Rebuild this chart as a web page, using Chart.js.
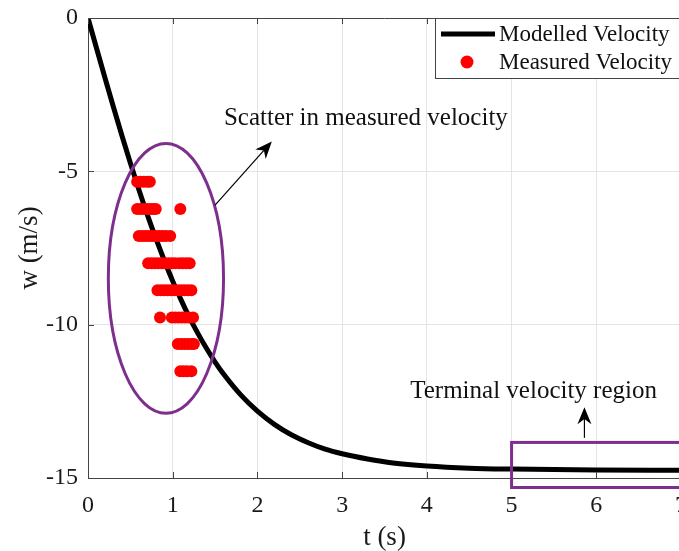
<!DOCTYPE html>
<html>
<head>
<meta charset="utf-8">
<script src="https://cdn.jsdelivr.net/npm/chart.js@4.4.0/dist/chart.umd.min.js"></script>
<style>
html, body { margin: 0; padding: 0; background: #fff; overflow: hidden; }
#wrap { width: 700px; height: 551px; }
</style>
</head>
<body>
<div id="wrap"><canvas id="c"></canvas></div>
<script>
// modelled velocity
var modelT = [0, 0.1, 0.2, 0.3, 0.4, 0.5, 0.6, 0.7, 0.8, 0.9, 1.0, 1.1, 1.2, 1.3, 1.4, 1.5, 1.6, 1.8, 2.0, 2.2, 2.4, 2.6, 2.8, 3.0, 3.3, 3.6, 4.0, 4.5, 5.0, 6.0, 7.0];
var modelW = [0, -0.98, -1.95, -2.90, -3.83, -4.73, -5.59, -6.41, -7.18, -7.90, -8.58, -9.20, -9.78, -10.30, -10.78, -11.22, -11.61, -12.28, -12.82, -13.25, -13.59, -13.85, -14.06, -14.21, -14.38, -14.51, -14.61, -14.68, -14.71, -14.74, -14.75];

// measured velocity: one row of times per velocity level
var measuredW = [-5.34, -6.23, -7.11, -8.00, -8.88, -9.77, -10.63, -11.52];
var measuredT = [
    [0.58, 0.62, 0.66, 0.70, 0.73],
    [0.58, 0.62, 0.66, 0.70, 0.74, 0.77, 0.80, 1.09],
    [0.60, 0.64, 0.68, 0.72, 0.76, 0.80, 0.84, 0.88, 0.92, 0.97],
    [0.71, 0.75, 0.79, 0.83, 0.87, 0.91, 0.95, 0.99, 1.03, 1.08, 1.12, 1.16, 1.20],
    [0.82, 0.86, 0.90, 0.94, 0.98, 1.02, 1.06, 1.10, 1.14, 1.18, 1.22],
    [0.85, 0.99, 1.03, 1.07, 1.11, 1.15, 1.19, 1.24],
    [1.06, 1.10, 1.14, 1.18, 1.22, 1.25],
    [1.09, 1.13, 1.17, 1.22]
];

var xTicks = [0, 1, 2, 3, 4, 5, 6, 7];
var yTicks = [0, -5, -10, -15];

var modelPts = modelT.map(function (t, i) { return {x: t, y: modelW[i]}; });
var measPts = [];
measuredT.forEach(function (row, i) {
    row.forEach(function (t) { measPts.push({x: t, y: measuredW[i]}); });
});

var serif = 'Liberation Serif, Times New Roman, serif';
var purple = '#7E2F8E';

function arrow(ctx, x1, y1, x2, y2) {
    var a = Math.atan2(y2 - y1, x2 - x1);
    var L = 17, W = 7;
    ctx.beginPath();
    ctx.moveTo(x1, y1);
    ctx.lineTo(x2 - Math.cos(a) * L * 0.7, y2 - Math.sin(a) * L * 0.7);
    ctx.stroke();
    ctx.beginPath();
    ctx.moveTo(x2, y2);
    ctx.lineTo(x2 - Math.cos(a) * L - Math.sin(a) * W, y2 - Math.sin(a) * L + Math.cos(a) * W);
    ctx.lineTo(x2 - Math.cos(a) * L * 0.7, y2 - Math.sin(a) * L * 0.7);
    ctx.lineTo(x2 - Math.cos(a) * L + Math.sin(a) * W, y2 - Math.sin(a) * L - Math.cos(a) * W);
    ctx.closePath();
    ctx.fill();
}

var extras = {
    id: 'extras',
    afterDatasetsDraw: function (chart) {
        var ctx = chart.ctx, x = chart.scales.x, y = chart.scales.y;
        var area = chart.chartArea;
        ctx.save();

        // box top line and inward ticks
        ctx.strokeStyle = '#444';
        ctx.lineWidth = 1;
        ctx.beginPath();
        ctx.moveTo(area.left, area.top + 0.5);
        ctx.lineTo(area.right, area.top + 0.5);
        ctx.stroke();
        ctx.beginPath();
        xTicks.forEach(function (v) {
            var px = Math.round(x.getPixelForValue(v)) + 0.5;
            ctx.moveTo(px, area.bottom); ctx.lineTo(px, area.bottom - 6);
            ctx.moveTo(px, area.top); ctx.lineTo(px, area.top + 6);
        });
        yTicks.forEach(function (v) {
            var py = Math.round(y.getPixelForValue(v)) + 0.5;
            ctx.moveTo(area.left, py); ctx.lineTo(area.left + 6, py);
        });
        ctx.stroke();

        // ellipse round the scatter
        ctx.strokeStyle = purple;
        ctx.lineWidth = 3;
        var cx = x.getPixelForValue(0.92), cy = y.getPixelForValue(-8.49);
        var rx = Math.abs(x.getPixelForValue(1.60) - cx), ry = Math.abs(y.getPixelForValue(-4.09) - cy);
        ctx.beginPath();
        ctx.ellipse(cx, cy, rx, ry, 0, 0, Math.PI * 2);
        ctx.stroke();

        // terminal velocity box
        var rl = x.getPixelForValue(5.0), rr = x.getPixelForValue(7.0);
        var rt = y.getPixelForValue(-13.84), rb = y.getPixelForValue(-15.31);
        ctx.strokeRect(rl, rt, rr - rl, rb - rt);

        // arrows
        ctx.strokeStyle = '#000';
        ctx.fillStyle = '#000';
        ctx.lineWidth = 1.2;
        arrow(ctx, x.getPixelForValue(1.50), y.getPixelForValue(-6.10), x.getPixelForValue(2.17), y.getPixelForValue(-4.03));
        arrow(ctx, x.getPixelForValue(5.86), y.getPixelForValue(-13.69), x.getPixelForValue(5.86), y.getPixelForValue(-12.69));

        // notes
        ctx.font = '25px ' + serif;
        ctx.textAlign = 'center';
        ctx.textBaseline = 'middle';
        ctx.fillStyle = '#111';
        ctx.fillText('Scatter in measured velocity', x.getPixelForValue(3.28), y.getPixelForValue(-3.26));
        ctx.fillText('Terminal velocity region', x.getPixelForValue(5.26), y.getPixelForValue(-12.19));

        // legend
        var ds = chart.data.datasets;
        ctx.fillStyle = '#fff';
        ctx.fillRect(435.5, 18.5, 260, 60);
        ctx.strokeStyle = '#444';
        ctx.lineWidth = 1;
        ctx.strokeRect(435.5, 18.5, 260, 60);
        ctx.strokeStyle = ds[0].borderColor;
        ctx.lineWidth = 5;
        ctx.beginPath();
        ctx.moveTo(441, 34); ctx.lineTo(495, 34);
        ctx.stroke();
        ctx.fillStyle = ds[1].backgroundColor;
        ctx.beginPath();
        ctx.arc(467, 62, 6.5, 0, Math.PI * 2);
        ctx.fill();
        ctx.fillStyle = '#111';
        ctx.font = '23px ' + serif;
        ctx.textAlign = 'left';
        ctx.fillText(ds[0].label, 499, 35);
        ctx.fillText(ds[1].label, 499, 63);
        ctx.restore();
    }
};

new Chart(document.getElementById('c'), {
    data: {
        datasets: [
            {
                type: 'line',
                label: 'Modelled Velocity',
                data: modelPts,
                borderColor: '#000',
                borderWidth: 5,
                pointRadius: 0,
                cubicInterpolationMode: 'monotone',
                order: 2
            },
            {
                type: 'scatter',
                label: 'Measured Velocity',
                data: measPts,
                backgroundColor: '#ff0000',
                borderWidth: 0,
                pointRadius: 6,
                order: 1
            }
        ]
    },
    options: {
        responsive: true,
        maintainAspectRatio: false,
        animation: false,
        layout: { padding: { top: 18, right: 19, left: 0, bottom: 0 } },
        plugins: { legend: { display: false }, tooltip: { enabled: false } },
        scales: {
            x: {
                type: 'linear',
                min: 0, max: 7,
                afterFit: function (s) { s.height = 73; s.paddingLeft = 0; s.paddingRight = 0; },
                afterBuildTicks: function (s) { s.ticks = xTicks.map(function (v) { return {value: v}; }); },
                grid: { color: '#e4e4e4', drawTicks: false },
                border: { color: '#444', width: 1 },
                ticks: { color: '#1a1a1a', padding: 13, font: { family: serif, size: 24 } },
                title: { display: true, text: 't (s)', color: '#1a1a1a', padding: 0, font: { family: serif, size: 27, lineHeight: 1 } }
            },
            y: {
                type: 'linear',
                min: -15, max: 0,
                afterFit: function (s) { s.width = 88; s.paddingTop = 0; s.paddingBottom = 0; },
                afterBuildTicks: function (s) { s.ticks = yTicks.map(function (v) { return {value: v}; }); },
                grid: { color: '#e4e4e4', drawTicks: false },
                border: { color: '#444', width: 1 },
                ticks: { color: '#1a1a1a', padding: 10, font: { family: serif, size: 24 } },
                title: { display: true, text: 'w (m/s)', color: '#1a1a1a', padding: { top: 16 }, font: { family: serif, size: 27, lineHeight: 1 } }
            }
        }
    },
    plugins: [extras]
});
</script>
</body>
</html>
